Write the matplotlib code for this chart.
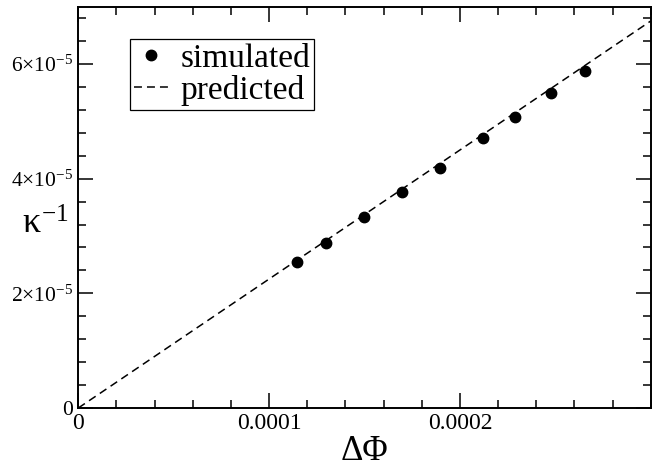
import matplotlib
matplotlib.use("Agg")
import matplotlib.pyplot as plt
from matplotlib.ticker import MultipleLocator

plt.rcParams['font.family'] = ['Liberation Serif', 'DejaVu Serif']
plt.rcParams['mathtext.fontset'] = 'custom'
plt.rcParams['mathtext.rm'] = 'Liberation Serif'
plt.rcParams['mathtext.it'] = 'Liberation Serif'
plt.rcParams['mathtext.bf'] = 'Liberation Serif:bold'

# ---- data ----
sim_x = [1.147e-4, 1.297e-4, 1.498e-4, 1.698e-4, 1.897e-4,
         2.123e-4, 2.288e-4, 2.478e-4, 2.655e-4]
sim_y = [2.55e-5, 2.88e-5, 3.34e-5, 3.77e-5, 4.19e-5,
         4.71e-5, 5.07e-5, 5.50e-5, 5.88e-5]
pred_x = [0.0, 3.0e-4]
pred_y = [0.0, 6.75e-5]

x_ticks = [0, 1e-4, 2e-4]
x_tick_labels = ['0', '0.0001', '0.0002']
y_ticks = [0, 2e-5, 4e-5, 6e-5]
y_tick_labels = ['0', r'$2{\times}10^{-5}$', r'$4{\times}10^{-5}$', r'$6{\times}10^{-5}$']

fig = plt.figure(figsize=(6.69, 4.68), dpi=100)
ax = fig.add_axes([78.3/669, 1-408/468, (650.7-78.3)/669, (408-6.7)/468])

ax.plot(pred_x, pred_y, color='black', lw=1.1, linestyle=(0, (5.2, 3.3)),
        label='predicted', zorder=2)
ax.plot(sim_x, sim_y, 'o', color='black', markersize=7.5, label='simulated',
        zorder=3)

ax.set_xlim(0, 3e-4)
ax.set_ylim(0, 7e-5)
ax.set_xticks(x_ticks)
ax.set_xticklabels(x_tick_labels, fontsize=17)
ax.set_yticks(y_ticks)
ax.set_yticklabels(y_tick_labels, fontsize=15.5)
ax.xaxis.set_minor_locator(MultipleLocator(2e-5))
ax.yaxis.set_minor_locator(MultipleLocator(4e-6))

ax.tick_params(which='both', direction='in', top=True, right=True, width=1.1)
ax.tick_params(which='major', length=10.5)
ax.tick_params(which='minor', length=5.8)
ax.tick_params(axis='x', which='major', pad=3.5)
ax.tick_params(axis='y', which='major', pad=3.5)
for s in ax.spines.values():
    s.set_linewidth(1.4)

ax.set_xlabel('ΔΦ', fontsize=25, labelpad=1)
ax.set_ylabel(r'$\kappa^{-1}$', fontsize=26, rotation=0, ha='center', va='center')
ax.yaxis.set_label_coords(-0.058, 0.456)

handles, labels = ax.get_legend_handles_labels()
order = [1, 0]
leg = ax.legend([handles[i] for i in order], [labels[i] for i in order],
                loc='upper left', bbox_to_anchor=(0.0903, 0.9188),
                borderaxespad=0, fontsize=24, frameon=True, fancybox=False,
                edgecolor='black', framealpha=1, handlelength=1.02,
                handletextpad=0.38, borderpad=0.12, labelspacing=0.03,
                numpoints=1)
leg.get_frame().set_linewidth(0.9)

fig.savefig('out.png', dpi=100)
